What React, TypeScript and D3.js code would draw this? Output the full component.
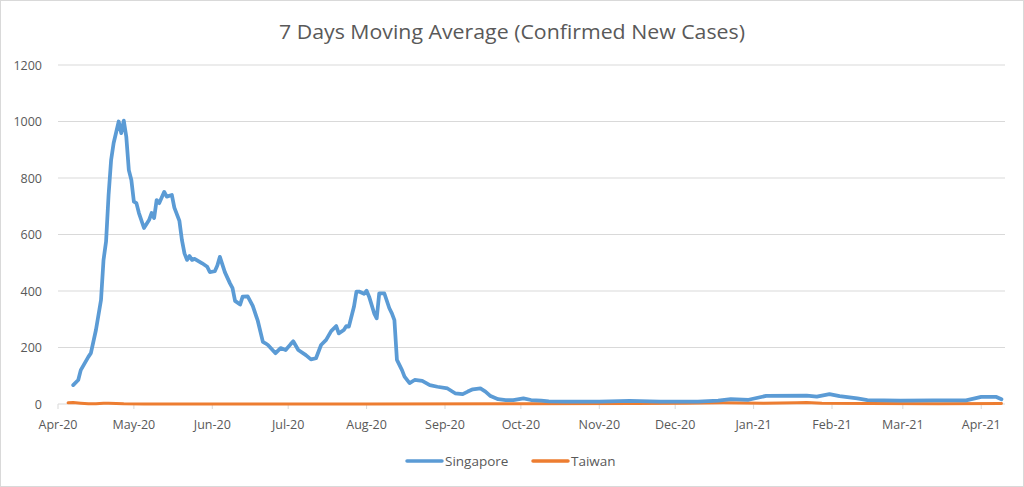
import React from "react";
import * as d3 from "d3";

// Singapore: 7-day moving average of confirmed new cases
const sgDates = [
  "2020-04-07", "2020-04-09", "2020-04-10", "2020-04-13", "2020-04-14", "2020-04-16",
  "2020-04-18", "2020-04-19", "2020-04-20", "2020-04-21", "2020-04-22", "2020-04-23",
  "2020-04-25", "2020-04-26", "2020-04-27", "2020-04-28", "2020-04-29", "2020-04-30",
  "2020-05-01", "2020-05-02", "2020-05-03", "2020-05-05", "2020-05-07", "2020-05-08",
  "2020-05-09", "2020-05-10", "2020-05-11", "2020-05-13", "2020-05-14", "2020-05-16",
  "2020-05-17", "2020-05-19", "2020-05-20", "2020-05-21", "2020-05-22", "2020-05-23",
  "2020-05-24", "2020-05-25", "2020-05-28", "2020-05-30", "2020-05-31", "2020-06-02",
  "2020-06-03", "2020-06-04", "2020-06-06", "2020-06-08", "2020-06-09", "2020-06-10",
  "2020-06-12", "2020-06-13", "2020-06-15", "2020-06-17", "2020-06-19", "2020-06-21",
  "2020-06-22", "2020-06-23", "2020-06-26", "2020-06-28", "2020-06-30", "2020-07-02",
  "2020-07-03", "2020-07-05", "2020-07-08", "2020-07-10", "2020-07-12", "2020-07-14",
  "2020-07-16", "2020-07-18", "2020-07-20", "2020-07-21", "2020-07-23", "2020-07-24",
  "2020-07-25", "2020-07-27", "2020-07-28", "2020-07-29", "2020-07-31", "2020-08-01",
  "2020-08-02", "2020-08-04", "2020-08-05", "2020-08-06", "2020-08-08", "2020-08-10",
  "2020-08-11", "2020-08-12", "2020-08-13", "2020-08-15", "2020-08-16", "2020-08-18",
  "2020-08-20", "2020-08-23", "2020-08-26", "2020-08-29", "2020-09-02", "2020-09-05",
  "2020-09-08", "2020-09-10", "2020-09-12", "2020-09-15", "2020-09-17", "2020-09-19",
  "2020-09-22", "2020-09-25", "2020-09-28", "2020-10-02", "2020-10-05", "2020-10-09",
  "2020-10-12", "2020-10-19", "2020-11-01", "2020-11-13", "2020-11-25", "2020-12-10",
  "2020-12-18", "2020-12-23", "2020-12-30", "2021-01-06", "2021-01-22", "2021-01-26",
  "2021-01-31", "2021-02-04", "2021-02-11", "2021-02-15", "2021-02-28", "2021-03-13",
  "2021-03-26", "2021-04-01", "2021-04-07", "2021-04-09",
];
const sgValues = [
  67, 85, 120, 167, 180, 262,
  368, 510, 575, 740, 864, 924,
  1000, 959, 1003, 946, 828, 793,
  716, 711, 676, 623, 651, 676,
  658, 722, 711, 751, 734, 740,
  695, 648, 580, 533, 510, 524,
  510, 514, 498, 486, 467, 470,
  490, 521, 466, 427, 410, 365,
  352, 380, 381, 347, 294, 220,
  215, 209, 180, 198, 191, 212,
  222, 191, 173, 158, 162, 209,
  227, 258, 276, 250, 262, 276,
  274, 344, 398, 398, 390, 401,
  380, 321, 303, 392, 392, 339,
  321, 297, 156, 120, 97, 74,
  85, 82, 67, 61, 55, 38,
  35, 44, 52, 55, 44, 28,
  17, 14, 14, 20, 14, 12,
  9, 8, 8, 11, 8, 8,
  12, 17, 15, 29, 30, 26,
  35, 28, 20, 14, 12, 13,
  13, 25, 25, 17,
];

// Taiwan: 7-day moving average of confirmed new cases
const twDates = [
  "2020-04-05", "2020-04-07", "2020-04-10", "2020-04-13", "2020-04-16", "2020-04-19",
  "2020-04-21", "2020-04-24", "2020-04-27", "2020-05-05", "2020-06-15", "2020-08-01",
  "2020-10-01", "2020-11-15", "2020-12-05", "2020-12-20", "2021-01-05", "2021-01-18",
  "2021-01-22", "2021-01-28", "2021-02-15", "2021-03-15", "2021-04-09",
];
const twValues = [
  4, 5, 3, 1, 1, 3,
  3, 2, 1, 0, 0, 0,
  1, 2, 3, 4, 3, 4,
  5, 3, 2, 1, 2,
];

const yTicks = [0, 200, 400, 600, 800, 1000, 1200];
const seriesNames = ["Singapore", "Taiwan"];
const seriesColors = ["#5B9BD5", "#ED7D31"];

const W = 1024;
const H = 487;
const FONT = "'Open Sans', 'Noto Sans', sans-serif";
const TEXT = "#595959";
const GRID = "#D9D9D9";

const parse = d3.timeParse("%Y-%m-%d");

export default function App() {
  const x = d3
    .scaleTime()
    .domain([new Date(2020, 3, 1), new Date(2021, 3, 10)])
    .range([58, 1004]);
  const y = d3.scaleLinear().domain([0, 1200]).range([404, 65]);

  const sg = sgDates.map((d, i) => ({ date: parse(d) as Date, v: sgValues[i] }));
  const tw = twDates.map((d, i) => ({ date: parse(d) as Date, v: twValues[i] }));

  const line = d3
    .line<{ date: Date; v: number }>()
    .x((d) => x(d.date))
    .y((d) => y(d.v));

  const months = x.ticks(d3.timeMonth.every(1) as d3.TimeInterval);
  const fmt = d3.timeFormat("%b-%y");
  const [x0, x1] = x.range();

  return (
    <svg
      width={W}
      height={H}
      style={{ position: "fixed", left: 0, top: 0, background: "#fff" }}
      fontFamily={FONT}
    >
      <rect x={0.5} y={0.5} width={W - 1} height={H - 1} fill="#fff" stroke={GRID} />

      <text
        x={512}
        y={39}
        textAnchor="middle"
        fontSize={20}
        fill={TEXT}
        textLength={466}
        lengthAdjust="spacingAndGlyphs"
      >
        7 Days Moving Average (Confirmed New Cases)
      </text>

      {/* horizontal gridlines and value labels */}
      {yTicks.map((t) => (
        <g key={t}>
          {t > 0 && (
            <line x1={x0} x2={x1 + 1} y1={y(t)} y2={y(t)} stroke={GRID} strokeWidth={1} />
          )}
          <text x={42} y={y(t) + 4.5} textAnchor="end" fontSize={12.5} fill={TEXT}>
            {t}
          </text>
        </g>
      ))}

      {/* date axis */}
      <line x1={x0} x2={x1 + 1} y1={y(0)} y2={y(0)} stroke={GRID} strokeWidth={1} />
      {months.map((m) => (
        <g key={m.getTime()}>
          <line x1={x(m)} x2={x(m)} y1={y(0)} y2={y(0) + 5} stroke={GRID} strokeWidth={1} />
          <text x={x(m)} y={429} textAnchor="middle" fontSize={12.5} fill={TEXT}>
            {fmt(m)}
          </text>
        </g>
      ))}

      <path
        d={line(tw) || ""}
        fill="none"
        stroke={seriesColors[1]}
        strokeWidth={3}
        strokeLinejoin="round"
        strokeLinecap="round"
      />
      <path
        d={line(sg) || ""}
        fill="none"
        stroke={seriesColors[0]}
        strokeWidth={3.75}
        strokeLinejoin="round"
        strokeLinecap="round"
      />

      {/* legend */}
      {seriesNames.map((name, i) => {
        const lx = i === 0 ? 407 : 533;
        return (
          <g key={name}>
            <line
              x1={lx}
              x2={lx + 35}
              y1={461}
              y2={461}
              stroke={seriesColors[i]}
              strokeWidth={3.5}
              strokeLinecap="round"
            />
            <text x={lx + 38} y={466} fontSize={13.5} fill={TEXT}>
              {name}
            </text>
          </g>
        );
      })}
    </svg>
  );
}
